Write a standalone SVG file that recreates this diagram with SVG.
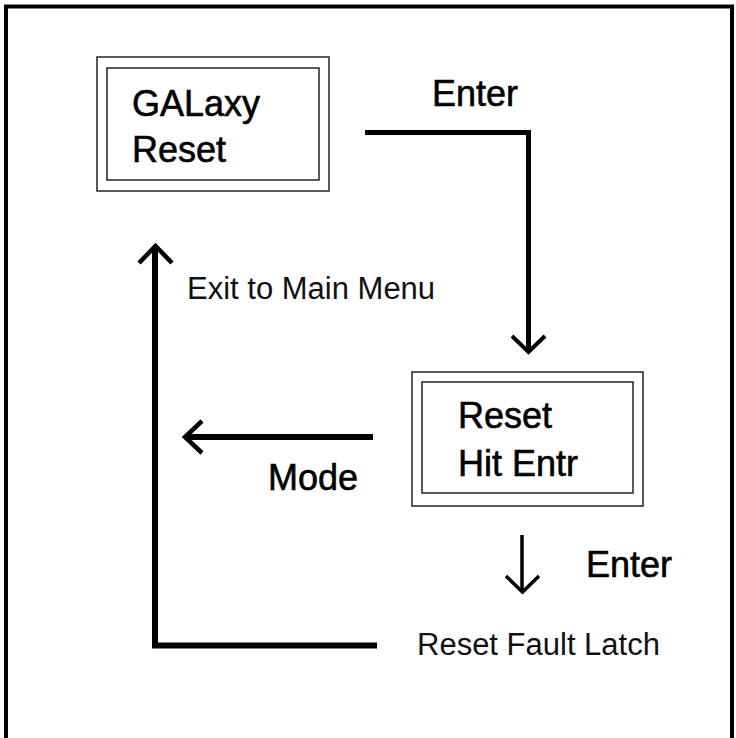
<svg xmlns="http://www.w3.org/2000/svg" width="736" height="738" viewBox="0 0 736 738">
<style>
  .frame{fill:none;stroke:#000;stroke-width:4}
  .box{fill:#fff;stroke:#222;stroke-width:1.5}
  .lbl{font-family:"Liberation Sans",Arial,sans-serif;font-size:36px;fill:#000;stroke:#000;stroke-width:0.6}
  .thin{font-family:"Liberation Sans",Arial,sans-serif;font-size:31px;fill:#111}
  .wire{fill:none;stroke:#000;stroke-width:5;stroke-linejoin:miter}
  .head{fill:none;stroke:#000;stroke-width:4;stroke-linecap:butt;stroke-linejoin:miter}
</style>
<rect x="0" y="0" width="736" height="738" fill="#fff"/>
<rect class="frame" x="6" y="6.5" width="726" height="745"/>
<g id="node-galaxy-reset">
  <rect class="box" x="97" y="57" width="232" height="134"/>
  <rect class="box" x="107" y="68" width="212" height="112"/>
  <text class="lbl" x="132" y="116">GALaxy</text>
  <text class="lbl" x="132" y="162">Reset</text>
</g>
<g id="node-reset-hit-entr">
  <rect class="box" x="412" y="372" width="231" height="134"/>
  <rect class="box" x="422" y="382" width="211" height="111"/>
  <text class="lbl" x="458" y="428">Reset</text>
  <text class="lbl" x="458" y="476">Hit Entr</text>
</g>
<g id="connectors">
  <path class="wire" d="M365 132.5 H528.5 V351"/>
  <path class="head" d="M512 336 L528.5 352 L545 336"/>
  <path class="wire" style="stroke-width:6" d="M373 437 H186"/>
  <path class="head" style="stroke-width:4.5" d="M202 421 L185 437 L202 453"/>
  <path class="wire" style="stroke-width:6" d="M377 645.5 H155 V248"/>
  <path class="head" style="stroke-width:4.5" d="M139 263 L155.5 246 L172 263"/>
  <path class="wire" style="stroke-width:3.5" d="M522 535 V591"/>
  <path class="head" style="stroke-width:3.5" d="M506 576 L522.5 592 L539 576"/>
</g>
<g id="labels">
  <text class="lbl" x="432" y="106">Enter</text>
  <text class="thin" x="187" y="299">Exit to Main Menu</text>
  <text class="lbl" x="268" y="490">Mode</text>
  <text class="lbl" x="586" y="577">Enter</text>
  <text class="thin" x="417" y="655">Reset Fault Latch</text>
</g>
</svg>
